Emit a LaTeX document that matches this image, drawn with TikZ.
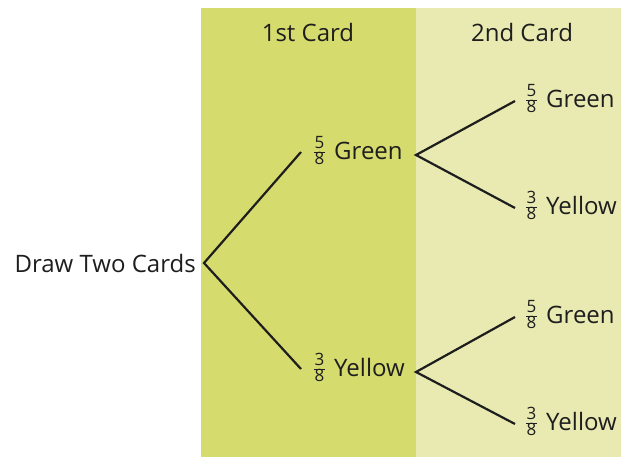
\documentclass[tikz,border=0pt]{standalone}
\usepackage{fontspec}
\setmainfont{Open Sans}
\usepackage{array}
\definecolor{bandA}{RGB}{214,219,110}
\definecolor{bandB}{RGB}{233,234,178}
\definecolor{inkc}{RGB}{30,30,30}
\newcommand{\myfr}[2]{\ensuremath{\vcenter{\hbox{\fontsize{17}{17}\selectfont\renewcommand{\arraystretch}{1.0}\setlength{\arrayrulewidth}{0.8pt}\setlength{\tabcolsep}{0.5pt}\begin{tabular}{c}#1\\[-2pt]\hline\rule{0pt}{12pt}#2\end{tabular}}}}\hspace{9.5pt}}
\begin{document}
\begin{tikzpicture}[x=1pt,y=-1pt,
  lbl/.style={font=\fontsize{24}{26}\selectfont, text=inkc, inner sep=0pt},
  leaf/.style={lbl, anchor=west, outer sep=0pt},
  branch/.style={line width=2.2pt, draw=inkc}]
\useasboundingbox (0,0) rectangle (621,457);
\fill[white] (0,0) rectangle (621,457);
\fill[bandA] (201,8) rectangle (416,457);
\fill[bandB] (416,8) rectangle (621,457);
\node[lbl] (t1) at (308,33) {1st Card};
\node[lbl] (t2) at (522,33) {2nd Card};
\node[lbl, anchor=east] (root) at (196,263) {Draw Two Cards};
\node[leaf] (g1) at (314,153) {\myfr{5}{8}Green};
\node[leaf] (y1) at (314,370) {\myfr{3}{8}Yellow};
\node[leaf] (gg) at (526,101) {\myfr{5}{8}Green};
\node[leaf] (gy) at (526,208) {\myfr{3}{8}Yellow};
\node[leaf] (yg) at (526,317) {\myfr{5}{8}Green};
\node[leaf] (yy) at (526,424) {\myfr{3}{8}Yellow};
\coordinate (r0) at (204,263);
\coordinate (f1) at (416,155);
\coordinate (f2) at (416,372);
\draw[branch] ([xshift=-13pt,yshift=1pt]g1.west) -- (r0) -- ([xshift=-13pt,yshift=1pt]y1.west);
\draw[branch] ([xshift=-11pt]gg.west) -- (f1) -- ([xshift=-11pt]gy.west);
\draw[branch] ([xshift=-11pt]yg.west) -- (f2) -- ([xshift=-11pt]yy.west);
\end{tikzpicture}
\end{document}
